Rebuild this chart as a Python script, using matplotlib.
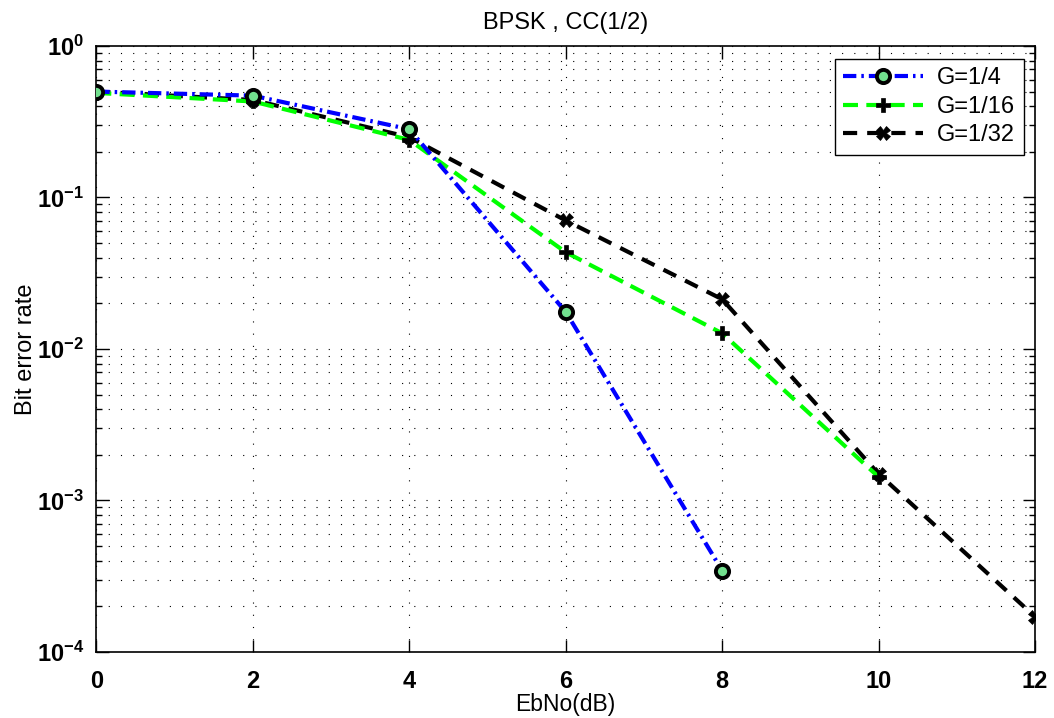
import matplotlib
matplotlib.use("Agg")
import matplotlib.pyplot as plt
from matplotlib.ticker import LogLocator, FixedLocator, NullFormatter, FuncFormatter
import numpy as np

plt.rcParams['font.family'] = ['Liberation Sans', 'DejaVu Sans']
plt.rcParams['mathtext.fontset'] = 'custom'
plt.rcParams['mathtext.rm'] = 'Liberation Sans:bold'
plt.rcParams['mathtext.it'] = 'Liberation Sans:bold'
plt.rcParams['mathtext.bf'] = 'Liberation Sans:bold'

# Eb/No sweep and measured bit error rates
ebno_db = [0, 2, 4, 6, 8, 10, 12]
ber_g4 = [0.50, 0.47, 0.282, 0.0176, 3.45e-4]
ber_g16 = [0.49, 0.43, 0.24, 0.0435, 0.0127, 1.43e-3]
ber_g32 = [0.50, 0.44, 0.25, 0.0705, 0.0213, 1.50e-3, 1.71e-4]
labels = ['G=1/4', 'G=1/16', 'G=1/32']

fig = plt.figure(figsize=(10.54, 7.18), dpi=100)
ax = fig.add_axes([0.0914, 0.0919, 0.8906, 0.8441])

l32, = ax.plot(ebno_db[:len(ber_g32)], ber_g32, color='black', lw=3,
               dashes=(3.4, 2.4), marker='X', ms=10, mfc='black', mec='black',
               mew=0.5, zorder=3)
l16, = ax.plot(ebno_db[:len(ber_g16)], ber_g16, color='#00ff00', lw=3,
               dashes=(3.6, 2.0), marker='P', ms=10.5, mfc='black', mec='black',
               mew=0.5, zorder=4)
l4, = ax.plot(ebno_db[:len(ber_g4)], ber_g4, color='#0000ff', lw=3,
              dashes=(3.2, 1.2, 0.6, 1.2), marker='o', ms=9.5, mfc='#72e08e',
              mec='black', mew=2.8, zorder=5)

ax.set_yscale('log')
ax.set_xlim(0, 12)
ax.set_ylim(1e-4, 1)
ax.xaxis.set_major_locator(FixedLocator(ebno_db))
ax.yaxis.set_major_locator(LogLocator(base=10, numticks=10))
ax.yaxis.set_minor_locator(LogLocator(base=10, subs=range(2, 10), numticks=20))
ax.yaxis.set_minor_formatter(NullFormatter())
ax.yaxis.set_major_formatter(
    FuncFormatter(lambda v, p: r'$\mathbf{10^{%d}}$' % int(round(np.log10(v)))))

grid_style = dict(color='black', lw=0.8, linestyle=(0, (1, 10)))
ax.grid(True, which='major', axis='both', **grid_style)
ax.grid(True, which='minor', axis='y', **grid_style)

ax.tick_params(which='both', direction='in', top=True, right=True,
               labelsize=17, width=1)
ax.tick_params(which='major', length=9)
ax.tick_params(which='minor', length=4.5)
ax.tick_params(axis='x', pad=13)
ax.tick_params(axis='y', pad=9)
for t in ax.get_xticklabels():
    t.set_fontweight('bold')
for s in ax.spines.values():
    s.set_linewidth(1.2)

ax.set_xlabel('EbNo(dB)', fontsize=16.5, labelpad=0)
ax.set_ylabel('Bit error rate', fontsize=17, labelpad=0)
ax.set_title('BPSK , CC(1/2)', fontsize=17, pad=12)

leg = ax.legend([l4, l16, l32], labels, loc='upper right',
                bbox_to_anchor=(0.988, 0.9785), borderaxespad=0,
                fontsize=17, handlelength=3.4, handletextpad=0.6,
                borderpad=0.35, labelspacing=0.28,
                fancybox=False, framealpha=1, edgecolor='black')
leg.get_frame().set_linewidth(1.0)

fig.savefig('out.png', dpi=100)
